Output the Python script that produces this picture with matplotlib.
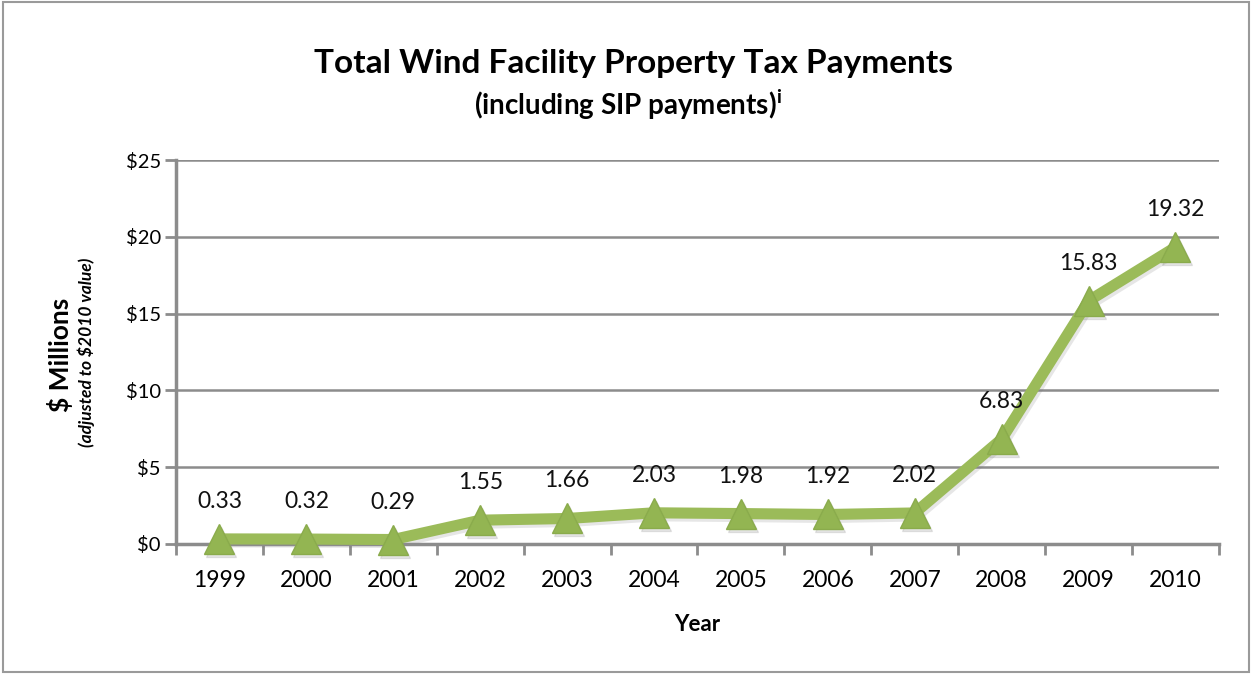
import matplotlib
matplotlib.use("Agg")
import matplotlib.pyplot as plt
import matplotlib.transforms as mtransforms
from matplotlib.patches import Rectangle

years = ["1999", "2000", "2001", "2002", "2003", "2004", "2005", "2006", "2007", "2008", "2009", "2010"]
values = [0.33, 0.32, 0.29, 1.55, 1.66, 2.03, 1.98, 1.92, 2.02, 6.83, 15.83, 19.32]
yticks = [0, 5, 10, 15, 20, 25]
ytick_labels = ["$0", "$5", "$10", "$15", "$20", "$25"]

plt.rcParams['font.family'] = ['Lato', 'DejaVu Sans']

fig = plt.figure(figsize=(12.52, 6.74), dpi=100)
fig.patches.append(Rectangle((0.002, 0.003), 0.996, 0.994, transform=fig.transFigure,
                             fill=False, edgecolor='#9a9a9a', linewidth=1.5))

ax = fig.add_axes([0.1406, 0.1929, 0.833, 0.5697])
x = list(range(len(years)))
green = '#9BBB59'

shadow_tr = mtransforms.offset_copy(ax.transData, fig=fig, x=2, y=-3, units='dots')
ax.plot(x, values, color='#777777', alpha=0.18, linewidth=8, marker='^', markersize=21,
        transform=shadow_tr, zorder=2, clip_on=False)
ax.plot(x, values, color=green, linewidth=8, solid_capstyle='round', solid_joinstyle='round',
        marker='^', markersize=21, markerfacecolor='#93b552', markeredgecolor='#8aab4c',
        zorder=3, clip_on=False)

for xi, v in zip(x, values):
    ax.annotate(f"{v:.2f}", (xi, v), xytext=(0, 27), textcoords='offset points',
                ha='center', va='center', fontsize=16.5, color='#111111')

ax.set_xlim(-0.5, len(years) - 0.5)
ax.set_ylim(0, 25)
ax.set_yticks(yticks)
ax.set_yticklabels(ytick_labels, fontsize=14.5)
ax.set_xticks(x)
ax.set_xticklabels(years, fontsize=16.5)
ax.set_xticks([i - 0.5 for i in range(len(years) + 1)], minor=True)
ax.tick_params(axis='x', which='major', length=0, pad=19)
ax.tick_params(axis='x', which='minor', length=8, width=2, color='#8c8c8c', direction='out')
ax.tick_params(axis='y', length=8, width=2, color='#8c8c8c', direction='out', pad=3)
ax.grid(axis='y', color='#8c8c8c', linewidth=1.8)
ax.set_axisbelow(True)
for s in ['top', 'right']:
    ax.spines[s].set_visible(False)
for s in ['left', 'bottom']:
    ax.spines[s].set_color('#8c8c8c')
    ax.spines[s].set_linewidth(2.5)

ax.set_xlabel("Year", fontsize=16, fontweight='bold', labelpad=16)

fig.text(0.048, 0.473, "$ Millions", rotation=90, ha='center', va='center',
         fontsize=19, fontweight='bold')
fig.text(0.069, 0.478, "(adjusted to $2010 value)", rotation=90, ha='center', va='center',
         fontsize=12.5, fontstyle='italic', fontweight='bold')

fig.text(0.506, 0.906, "Total Wind Facility Property Tax Payments", ha='center', va='center',
         fontsize=24, fontweight='bold')
fig.text(0.502, 0.845, "(including SIP payments)$^{\\mathregular{i}}$", ha='center', va='center',
         fontsize=20, fontweight='bold')

fig.savefig("out.png", dpi=100)
